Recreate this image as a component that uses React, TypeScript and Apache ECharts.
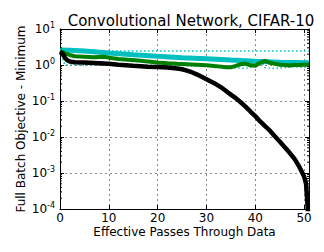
import React, { useEffect, useRef } from "react";
import * as echarts from "echarts";

const TITLE = "Convolutional Network, CIFAR-10";
const X_NAME = "Effective Passes Through Data";
const Y_NAME = "Full Batch Objective - Minimum";

const blackX = [0, 0.5, 1, 1.5, 2, 3, 5, 8, 10, 12, 15, 18, 20, 22, 24, 25, 26, 27, 28, 29, 30, 31, 32, 33, 34, 35, 36, 37, 38, 39, 40, 41, 42, 43, 44, 45, 46, 47, 48, 49, 49.5, 50, 50.4, 50.6, 50.8];
const blackY = [2.3, 2.1, 1.6, 1.35, 1.25, 1.2, 1.17, 1.12, 1.08, 1.02, 0.95, 0.9, 0.88, 0.85, 0.8, 0.76, 0.7, 0.63, 0.55, 0.47, 0.4, 0.34, 0.29, 0.24, 0.19, 0.15, 0.12, 0.092, 0.07, 0.051, 0.038, 0.027, 0.02, 0.015, 0.0105, 0.0075, 0.0053, 0.0037, 0.0025, 0.0015, 0.0011, 0.0008, 0.0005, 0.0002, 0.00008];

const greenX = [0, 0.5, 1, 2, 3, 5, 7, 9, 10, 12, 14, 16, 18, 20, 22, 24, 26, 28, 30, 32, 34, 35, 36, 37, 38, 39, 40, 41, 42, 43, 44, 45, 46, 47, 48, 49, 50, 51];
const greenY = [2.4, 2.3, 2.1, 1.9, 1.75, 1.7, 1.65, 1.7, 1.6, 1.47, 1.4, 1.33, 1.25, 1.17, 1.12, 1.08, 1.05, 1.02, 0.98, 0.93, 0.86, 0.86, 0.95, 1.05, 1.1, 0.98, 0.95, 1.15, 1.3, 1.15, 1.08, 1.02, 1.0, 0.97, 1.0, 1.0, 1.02, 1.02];

const cyanX = [0, 2, 5, 10, 15, 20, 25, 30, 35, 40, 45, 51];
const cyanY = [2.6, 2.55, 2.45, 2.15, 1.93, 1.75, 1.6, 1.48, 1.37, 1.28, 1.2, 1.15];

const cyanDotX = [0, 51];
const cyanDotY = [2.45, 2.45];

const cyanNoiseX = [0, 1, 12, 30, 35, 36, 38, 40, 41, 42, 44, 46, 48, 50, 51];
const cyanNoiseY = [2.4, 1.0, 1.0, 0.95, 0.85, 0.84, 0.8, 0.95, 1.3, 0.85, 0.8, 0.85, 0.9, 0.85, 0.9];

const yMin = 1e-4;
const yMax = 10;
const minorTickValues: number[] = [];
for (let e = -4; e < 1; e++) {
  for (let m = 2; m <= 9; m++) minorTickValues.push(m * Math.pow(10, e));
}

const zip = (xs: number[], ys: number[]) => xs.map((x, i) => [x, ys[i]]);

export default function App() {
  const ref = useRef<HTMLDivElement>(null);
  useEffect(() => {
    if (!ref.current) return;
    document.body.style.margin = "0";
    const chart = echarts.init(ref.current, null, { renderer: "svg" });
    const font = "DejaVu Sans";
    const splitLine = { show: true, lineStyle: { color: "#8a8a8a", type: [2, 3], width: 1 } };
    chart.setOption({
      animation: false,
      textStyle: { fontFamily: font },
      title: {
        text: TITLE,
        left: 186,
        textAlign: "center",
        top: 8,
        textStyle: { fontFamily: font, fontSize: 15, fontWeight: "normal", color: "#000" },
      },
      grid: { left: 60, right: 15, top: 29, bottom: 43, containLabel: false },
      xAxis: [
        {
          type: "value",
          min: 0,
          max: 51,
          interval: 10,
          name: X_NAME,
          nameLocation: "middle",
          nameGap: 17,
          nameMoveOverlap: false,
          nameTextStyle: { fontFamily: font, fontSize: 12, color: "#000" },
          axisLine: { show: true, onZero: false, lineStyle: { color: "#000", width: 1 } },
          axisTick: { show: true, inside: true, length: 4, lineStyle: { color: "#000" } },
          axisLabel: { fontFamily: font, fontSize: 12, color: "#000", margin: 3, showMaxLabel: false },
          splitLine,
        },
        {
          type: "value",
          position: "top",
          min: 0,
          max: 51,
          interval: 10,
          axisLine: { show: true, onZero: false, lineStyle: { color: "#000", width: 1 } },
          axisTick: { show: true, inside: true, length: 4, lineStyle: { color: "#000" } },
          axisLabel: { show: false },
          splitLine: { show: false },
        },
      ],
      yAxis: [
        {
          type: "log",
          min: yMin,
          max: yMax,
          logBase: 10,
          name: Y_NAME,
          nameLocation: "middle",
          nameGap: 33,
          nameMoveOverlap: false,
          nameTextStyle: { fontFamily: font, fontSize: 12, color: "#000" },
          axisLine: { show: true, onZero: false, lineStyle: { color: "#000", width: 1 } },
          axisTick: { show: true, inside: true, length: 4, lineStyle: { color: "#000" } },
          axisLabel: {
            margin: 5,
            formatter: (v: number) => `{a|10}{b|${Math.round(Math.log10(v))}}`,
            rich: {
              a: { fontFamily: font, fontSize: 12, color: "#000" },
              b: { fontFamily: font, fontSize: 8, color: "#000", padding: [0, 0, 8, 0] },
            },
          },
          splitLine,
        },
        {
          type: "log",
          position: "right",
          min: yMin,
          max: yMax,
          logBase: 10,
          axisLine: { show: true, onZero: false, lineStyle: { color: "#000", width: 1 } },
          axisTick: { show: true, inside: true, length: 4, lineStyle: { color: "#000" } },
          axisLabel: { show: false },
          splitLine: { show: false },
        },
      ],
      series: [
        {
          type: "line",
          data: zip(cyanDotX, cyanDotY),
          showSymbol: false,
          lineStyle: { color: "#00bfbf", width: 1.5, type: [1.5, 2.5] },
          z: 1,
        },
        {
          type: "line",
          data: zip(cyanNoiseX, cyanNoiseY),
          showSymbol: false,
          lineStyle: { color: "#00bfbf", width: 1.5, type: [1.5, 2.5] },
          z: 1,
        },
        {
          type: "line",
          data: zip(cyanX, cyanY),
          showSymbol: false,
          lineStyle: { color: "#00bfbf", width: 5 },
          z: 2,
        },
        {
          type: "line",
          data: zip(greenX, greenY),
          showSymbol: false,
          lineStyle: { color: "#007f00", width: 4 },
          z: 3,
        },
        {
          type: "line",
          data: zip(blackX, blackY),
          showSymbol: false,
          lineStyle: { color: "#000", width: 4.5 },
          z: 4,
        },
        {
          type: "custom",
          data: minorTickValues.map((v) => [0, v]),
          silent: true,
          z: 5,
          renderItem: (params: any, api: any) => {
            const cs = params.coordSys;
            const y = api.coord([0, api.value(1)])[1];
            return {
              type: "group",
              children: [
                { type: "line", shape: { x1: cs.x, y1: y, x2: cs.x + 2, y2: y }, style: { stroke: "#000", lineWidth: 1 } },
                { type: "line", shape: { x1: cs.x + cs.width - 2, y1: y, x2: cs.x + cs.width, y2: y }, style: { stroke: "#000", lineWidth: 1 } },
              ],
            };
          },
        },
      ],
    });
    return () => chart.dispose();
  }, []);
  return <div ref={ref} style={{ width: 324, height: 252 }} />;
}
